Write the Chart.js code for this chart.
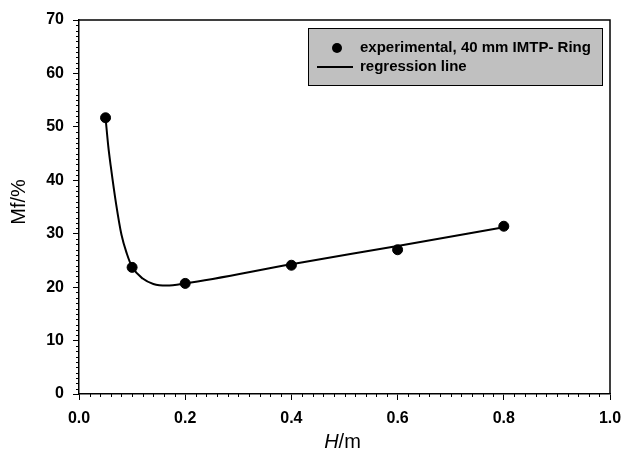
<!DOCTYPE html>
<html>
<head>
<meta charset="utf-8">
<script src="https://cdn.jsdelivr.net/npm/chart.js@4/dist/chart.umd.min.js"></script>
<style>
  html, body { margin: 0; padding: 0; background: #fff; }
  #wrap { width: 626px; height: 450px; }
</style>
</head>
<body>
<div id="wrap"><canvas id="c" width="626" height="450"></canvas></div>
<script>
// measured points
var heightM = [0.05, 0.1, 0.2, 0.4, 0.6, 0.8];
var mfPct = [51.7, 23.7, 20.7, 24.1, 27.0, 31.4];

// regression curve
var regX = [0.05, 0.055, 0.06, 0.07, 0.08, 0.09, 0.1, 0.12, 0.14, 0.165, 0.2, 0.4, 0.6, 0.8];
var regY = [51.7, 46.5, 42.5, 35.5, 29.8, 26.3, 23.8, 21.6, 20.6, 20.3, 20.7, 24.3, 27.7, 31.2];

var xTicks = [0.0, 0.2, 0.4, 0.6, 0.8, 1.0];
var yTicks = [0, 10, 20, 30, 40, 50, 60, 70];

var seriesNames = ["experimental, 40 mm IMTP- Ring", "regression line"];

const ctx = document.getElementById("c");
const FONT = "'Liberation Sans', Arial, sans-serif";

const toXY = (xs, ys) => xs.map((x, i) => ({ x: x, y: ys[i] }));

// minor ticks, frame, axis titles and the boxed legend
const extras = {
  id: "extras",
  afterDraw(chart) {
    const c = chart.ctx;
    const a = chart.chartArea;
    const xs = chart.scales.x;
    const ys = chart.scales.y;
    c.save();
    c.strokeStyle = "#000";
    c.lineWidth = 1;

    // minor ticks
    c.beginPath();
    for (let i = 0; i <= 50; i++) {
      if (i % 10 === 0) continue;
      let px = Math.round(xs.getPixelForValue(i * 0.02)) + 0.5;
      c.moveTo(px, a.bottom);
      c.lineTo(px, a.bottom + 3);
    }
    for (let i = 0; i <= 70; i++) {
      if (i % 10 === 0) continue;
      let py = Math.round(ys.getPixelForValue(i)) + 0.5;
      c.moveTo(a.left, py);
      c.lineTo(a.left - 3, py);
    }
    c.stroke();

    // top / right frame
    c.lineWidth = 1.5;
    c.beginPath();
    c.moveTo(a.left, a.top);
    c.lineTo(a.right, a.top);
    c.lineTo(a.right, a.bottom);
    c.stroke();

    // axis titles
    c.fillStyle = "#000";
    c.textBaseline = "alphabetic";
    c.font = "italic 20px " + FONT;
    let w1 = c.measureText("H").width;
    c.font = "20px " + FONT;
    let w2 = c.measureText("/m").width;
    let cx = (a.left + a.right) / 2;
    let sx = cx - 2 - (w1 + w2) / 2;
    c.textAlign = "left";
    c.font = "italic 20px " + FONT;
    c.fillText("H", sx, 448);
    c.font = "20px " + FONT;
    c.fillText("/m", sx + w1, 448);

    c.save();
    c.translate(25, 202);
    c.rotate(-Math.PI / 2);
    c.textAlign = "center";
    c.fillText("Mf/%", 0, 0);
    c.restore();

    // legend box
    let lx = 308, ly = 28, lw = 294, lh = 57;
    c.fillStyle = "#c0c0c0";
    c.fillRect(lx, ly, lw, lh);
    c.lineWidth = 1;
    c.strokeStyle = "#000";
    c.strokeRect(lx + 0.5, ly + 0.5, lw, lh);

    c.fillStyle = "#000";
    c.beginPath();
    c.arc(337, 48, 5, 0, Math.PI * 2);
    c.fill();
    c.lineWidth = 2;
    c.beginPath();
    c.moveTo(317, 67);
    c.lineTo(353, 67);
    c.stroke();

    c.font = "bold 15px " + FONT;
    c.textAlign = "left";
    c.textBaseline = "middle";
    c.fillText(seriesNames[0], 360, 48);
    c.fillText(seriesNames[1], 360, 67);
    c.restore();
  }
};

new Chart(ctx, {
  type: "scatter",
  data: {
    datasets: [
      {
        label: seriesNames[1],
        data: toXY(regX, regY),
        showLine: true,
        borderColor: "#000",
        borderWidth: 2,
        pointRadius: 0,
        cubicInterpolationMode: "monotone",
        order: 2
      },
      {
        label: seriesNames[0],
        data: toXY(heightM, mfPct),
        backgroundColor: "#000",
        borderColor: "#000",
        pointRadius: 5,
        order: 1
      }
    ]
  },
  options: {
    responsive: false,
    animation: false,
    layout: { padding: { top: 20, right: 16, left: 0, bottom: 0 } },
    plugins: {
      legend: { display: false },
      tooltip: { enabled: false }
    },
    scales: {
      x: {
        type: "linear",
        min: 0,
        max: 1,
        afterBuildTicks: (s) => { s.ticks = xTicks.map(v => ({ value: v })); },
        afterFit: (s) => { s.height = 56; s.paddingRight = 0; s.paddingLeft = 0; },
        ticks: {
          color: "#000",
          padding: 9,
          maxRotation: 0,
          font: { family: FONT, size: 16, weight: "bold" },
          callback: (v) => v.toFixed(1)
        },
        grid: { drawOnChartArea: false, color: "#000", tickLength: 6, tickWidth: 1 },
        border: { color: "#000", width: 1.5 }
      },
      y: {
        min: 0,
        max: 70,
        afterBuildTicks: (s) => { s.ticks = yTicks.map(v => ({ value: v })); },
        afterFit: (s) => { s.width = 79; s.paddingTop = 0; s.paddingBottom = 0; },
        ticks: {
          color: "#000",
          padding: 9,
          font: { family: FONT, size: 16, weight: "bold" }
        },
        grid: { drawOnChartArea: false, color: "#000", tickLength: 6, tickWidth: 1 },
        border: { color: "#000", width: 1.5 }
      }
    }
  },
  plugins: [extras]
});
</script>
</body>
</html>
